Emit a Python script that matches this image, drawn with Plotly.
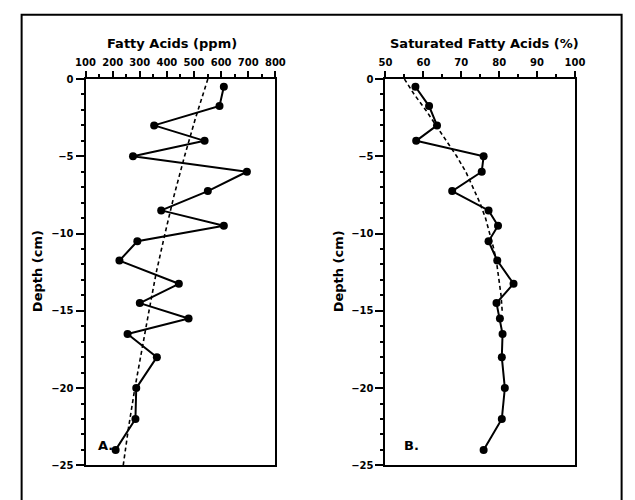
import plotly.graph_objects as go

# Core sample depths (cm below surface)
depth = [-0.5, -1.75, -3, -4, -5, -6, -7.25, -8.5, -9.5, -10.5, -11.75,
         -13.25, -14.5, -15.5, -16.5, -18, -20, -22, -24]

# Panel A: total fatty acids (ppm)
fatty_ppm = [610, 594, 353, 539, 275, 695, 551, 379, 610, 291, 225,
             444, 300, 480, 255, 363, 287, 284, 211]

# Panel A trend (dashed)
trend_a_depth = [0, -2.5, -5, -7.5, -10, -12.5, -15, -17.5, -20, -22.5, -25]
trend_a_ppm = [551, 506, 465, 427, 393, 361, 334, 307, 282, 259, 239]

# Panel B: saturated fatty acids (% of total)
sat_pct = [57.9, 61.5, 63.6, 58.1, 75.9, 75.4, 67.6, 77.2, 79.7, 77.2, 79.5,
           83.8, 79.3, 80.2, 80.9, 80.7, 81.5, 80.7, 75.9]

# Panel B trend (dashed)
trend_b_depth = [0, -1, -2, -3, -4, -5, -6, -7, -8, -9, -10, -11, -12, -13, -14, -15]
trend_b_pct = [55.0, 57.6, 60.6, 63.4, 66.2, 68.8, 71.2, 73.1, 74.9, 76.4,
               77.6, 78.6, 79.4, 80.0, 80.5, 80.8]

W, H = 635, 500
FONT = "DejaVu Sans"

def px(x):
    return x / W

def py(y):
    return 1 - y / H

fig = go.Figure()

line_style = dict(color="black", width=2)
marker_style = dict(color="black", size=8, symbol="circle")
dash_style = dict(color="black", width=1.6, dash="4px,3px")

fig.add_trace(go.Scatter(x=trend_a_ppm, y=trend_a_depth, mode="lines",
                         line=dash_style, xaxis="x", yaxis="y"))
fig.add_trace(go.Scatter(x=fatty_ppm, y=depth, mode="lines+markers",
                         line=line_style, marker=marker_style, xaxis="x", yaxis="y"))
fig.add_trace(go.Scatter(x=trend_b_pct, y=trend_b_depth, mode="lines",
                         line=dash_style, xaxis="x2", yaxis="y2"))
fig.add_trace(go.Scatter(x=sat_pct, y=depth, mode="lines+markers",
                         line=line_style, marker=marker_style, xaxis="x2", yaxis="y2"))

tick_font = dict(family=FONT, size=10, color="black", weight="bold")

def xaxis_cfg(domain, rng, dtick, minor_dtick, anchor):
    return dict(domain=domain, range=rng, side="top", anchor=anchor,
                dtick=dtick, tick0=rng[0], ticks="outside", ticklen=6, tickwidth=1.5,
                tickcolor="black", minor=dict(dtick=minor_dtick, ticks="outside",
                                              ticklen=3, tickwidth=1.5, tickcolor="black"),
                showline=True, linewidth=2, linecolor="black", mirror=True,
                showgrid=False, zeroline=False, tickfont=tick_font, ticklabelstandoff=1,
                fixedrange=True)

def yaxis_cfg(anchor):
    return dict(domain=[py(470.7), py(75.7)], range=[-25, 0], anchor=anchor,
                dtick=5, ticks="outside", ticklen=8, tickwidth=1.5, tickcolor="black",
                minor=dict(dtick=1, ticks="outside", ticklen=3, tickwidth=1.5,
                           tickcolor="black"),
                showline=True, linewidth=2, linecolor="black", mirror=True,
                showgrid=False, zeroline=False, tickfont=tick_font, fixedrange=True)

title_font = dict(family=FONT, size=13, color="black", weight="bold")

annotations = [
    dict(text="Fatty Acids (ppm)", x=px(167), y=py(39), xref="paper", yref="paper",
         showarrow=False, font=title_font, xanchor="center", yanchor="middle"),
    dict(text="Saturated Fatty Acids (%)", x=px(490), y=py(39), xref="paper", yref="paper",
         showarrow=False, font=title_font, xanchor="center", yanchor="middle"),
    dict(text="Depth (cm)", x=px(28), y=py(272), xref="paper", yref="paper",
         showarrow=False, font=title_font, textangle=-90, xanchor="center", yanchor="middle"),
    dict(text="Depth (cm)", x=px(339), y=py(272), xref="paper", yref="paper",
         showarrow=False, font=title_font, textangle=-90, xanchor="center", yanchor="middle"),
    dict(text="A.", x=px(99), y=py(450), xref="paper", yref="paper",
         showarrow=False, font=title_font, xanchor="center", yanchor="middle"),
    dict(text="B.", x=px(415), y=py(450), xref="paper", yref="paper",
         showarrow=False, font=title_font, xanchor="center", yanchor="middle"),
]

fig.update_layout(
    width=W, height=H,
    margin=dict(l=0, r=0, t=0, b=0),
    paper_bgcolor="white", plot_bgcolor="white",
    showlegend=False,
    xaxis=xaxis_cfg([px(78), px(274)], [100, 800], 100, 50, "y"),
    yaxis=yaxis_cfg("x"),
    xaxis2=xaxis_cfg([px(387.7), px(583.3)], [50, 100], 10, 5, "y2"),
    yaxis2=yaxis_cfg("x2"),
    annotations=annotations,
    shapes=[dict(type="rect", xref="paper", yref="paper",
                 x0=px(12), x1=px(631.5), y0=-0.05, y1=py(10),
                 line=dict(color="black", width=2))],
)

fig.write_html("out.html", config={"displayModeBar": False})
